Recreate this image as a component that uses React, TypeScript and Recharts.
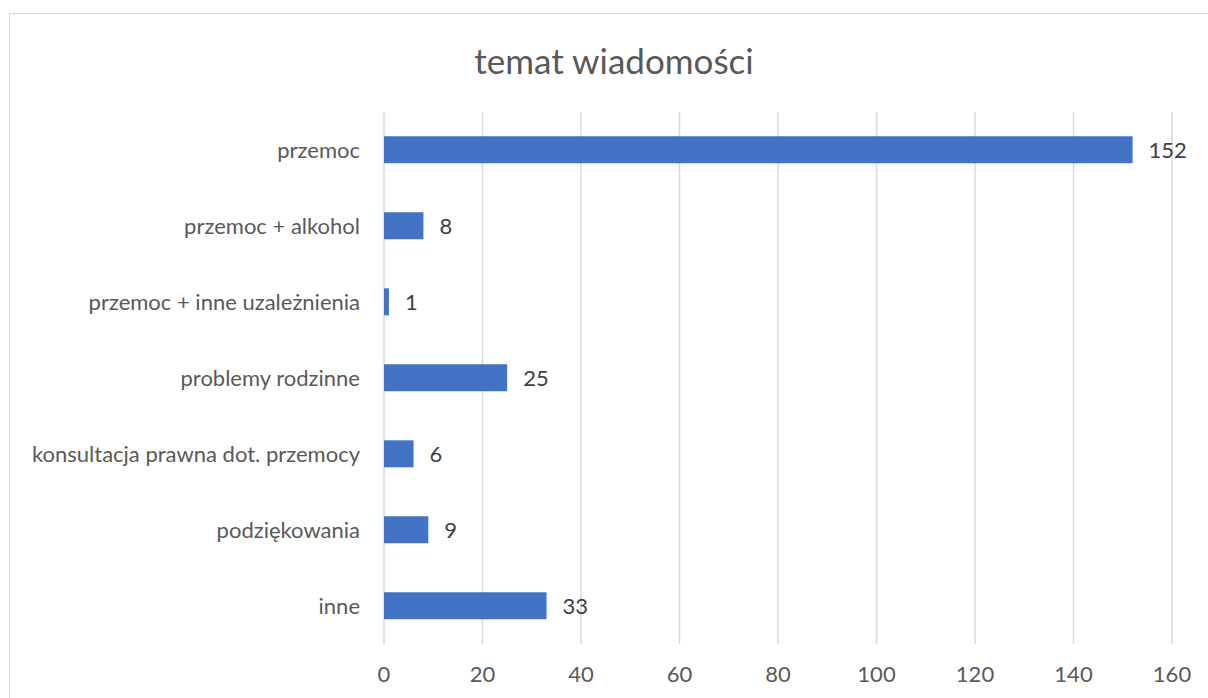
import { BarChart, Bar, XAxis, YAxis, CartesianGrid, LabelList } from 'recharts';

const categories = [
  'przemoc',
  'przemoc + alkohol',
  'przemoc + inne uzależnienia',
  'problemy rodzinne',
  'konsultacja prawna dot. przemocy',
  'podziękowania',
  'inne',
];
const counts = [152, 8, 1, 25, 6, 9, 33];
const xTicks = [0, 20, 40, 60, 80, 100, 120, 140, 160];

const FONT = 'Lato, "Open Sans", sans-serif';

export default function App() {
  const data = categories.map((name, i) => ({ name, value: counts[i] }));

  return (
    <div style={{ position: 'absolute', left: 0, top: 0, width: 1208, height: 698, background: '#fff', overflow: 'hidden' }}>
      <div
        style={{
          position: 'absolute',
          left: 9,
          top: 13,
          width: 1220,
          height: 720,
          border: '1px solid #d9d9d9',
          boxSizing: 'border-box',
        }}
      />
      <div
        style={{
          position: 'absolute',
          left: 0,
          width: 1228,
          top: 38,
          textAlign: 'center',
          fontFamily: FONT,
          fontSize: 35,
          lineHeight: '44px',
          color: '#595959',
        }}
      >
        temat wiadomości
      </div>
      <div style={{ position: 'absolute', left: 0, top: 0 }}>
        <BarChart
          width={1208}
          height={698}
          data={data}
          layout="vertical"
          margin={{ top: 112, right: 36, bottom: 24, left: 0 }}
          barCategoryGap="32%"
        >
          <CartesianGrid horizontal={false} stroke="#d9d9d9" strokeWidth={1.5} />
          <XAxis
            type="number"
            domain={[0, 160]}
            ticks={xTicks}
            axisLine={false}
            tickLine={false}
            height={30}
            tickMargin={16}
            tick={{ fill: '#595959', fontSize: 22, fontFamily: FONT }}
          />
          <YAxis
            type="category"
            dataKey="name"
            width={384}
            axisLine={false}
            tickLine={false}
            tickMargin={18}
            tick={{ fill: '#595959', fontSize: 22, fontFamily: FONT }}
          />
          <Bar dataKey="value" fill="#4472c4" isAnimationActive={false}>
            <LabelList
              dataKey="value"
              position="right"
              offset={16}
              fill="#404040"
              fontSize={22}
              fontFamily={FONT}
            />
          </Bar>
        </BarChart>
      </div>
    </div>
  );
}
